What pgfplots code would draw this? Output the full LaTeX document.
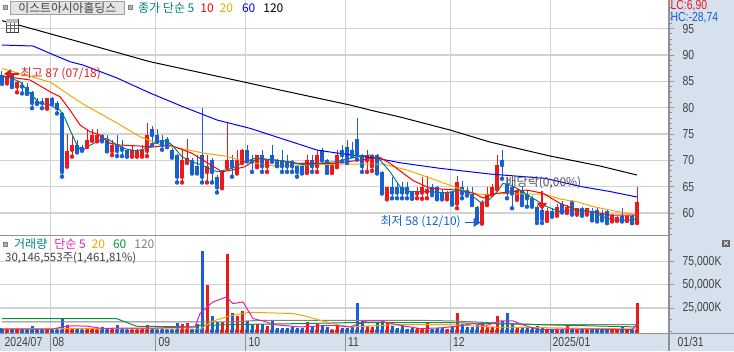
\documentclass[border=0pt]{standalone}
\usepackage{pgfplots}
\pgfplotsset{compat=1.18}
\usepackage{pgfplotstable}
\usepackage{fontspec}
\setmainfont{Liberation Sans}
\newfontfamily\hts[FakeStretch=0.8]{Liberation Sans}
\newfontfamily\kr{Noto Sans CJK KR}
\usetikzlibrary{arrows.meta}

\definecolor{cred}{RGB}{235,25,25}
\definecolor{cblue}{RGB}{25,95,210}
\definecolor{mateal}{RGB}{0,128,128}
\definecolor{mared}{RGB}{255,0,0}
\definecolor{maorange}{RGB}{240,168,0}
\definecolor{mablue}{RGB}{0,0,255}
\definecolor{vmag}{RGB}{224,32,176}
\definecolor{vgreen}{RGB}{0,150,60}
\definecolor{vgray}{RGB}{128,128,128}
\definecolor{gridc}{RGB}{210,210,210}
\definecolor{bandc}{RGB}{214,225,238}
\definecolor{linec}{RGB}{145,145,145}
\definecolor{txt}{RGB}{64,64,64}

% up candles (close > open): index, open, high, low, close, volume (million shares)
\pgfplotstableread{
i o h l c v
1 85.0 86.6 84.6 86.0 1.8
3 84.0 85.0 82.9 84.9 2.0
9 79.9 81.9 79.8 81.9 2.1
13 69.3 75.0 68.8 71.7 6.4
14 72.0 75.0 70.7 72.9 3.6
17 72.7 75.9 72.5 73.9 2.9
18 73.9 75.9 73.7 74.8 2.1
19 73.9 75.9 73.6 74.8 1.8
22 71.8 73.9 71.0 72.9 2.1
26 70.8 72.9 70.7 72.0 1.8
27 70.8 72.2 70.7 72.0 1.8
28 70.8 72.9 70.7 72.0 2.1
29 71.8 77.1 70.8 74.8 6.4
36 66.9 72.0 65.8 70.1 7.5
37 69.7 74.0 69.5 70.5 8.6
41 67.8 71.0 65.8 68.9 49.4
44 64.9 68.0 64.7 67.8 10.0
45 68.9 77.1 68.7 70.1 82.6
47 67.8 72.0 67.5 70.1 16.1
48 69.7 72.2 69.5 72.0 21.5
51 68.9 71.0 68.7 71.0 8.2
53 68.9 70.1 67.8 70.1 5.4
61 67.8 71.0 67.6 70.1 9.7
63 68.9 72.0 67.8 71.0 8.9
66 67.8 69.5 67.6 69.1 1.8
67 68.9 72.0 68.7 71.0 6.4
73 70.0 72.0 67.8 71.0 5.4
74 68.9 71.2 68.0 71.0 4.6
77 62.8 65.0 62.6 64.9 10.0
83 63.7 64.9 62.8 64.0 3.6
84 63.9 66.9 62.7 64.9 3.6
85 64.0 67.0 62.8 64.5 8.9
89 62.8 64.2 62.6 64.0 2.1
91 61.8 67.0 60.9 65.9 19.7
96 58.2 62.5 58.0 62.0 10.0
97 61.8 65.0 61.5 63.7 4.6
98 63.7 65.5 63.5 65.0 4.6
99 64.7 71.0 64.5 69.1 16.1
103 62.8 64.8 62.5 64.4 4.6
109 58.7 60.9 58.5 60.3 1.8
111 59.9 61.8 59.5 61.2 1.8
113 60.4 61.5 60.0 61.2 5.4
115 59.9 61.0 59.7 60.9 1.8
117 59.9 61.0 59.7 60.9 1.8
122 58.7 59.9 58.4 59.7 1.8
123 58.7 59.5 58.5 59.3 1.8
125 58.7 59.7 58.5 59.5 1.8
127 58.2 65.0 58.1 62.0 30.146
}\up

% down candles (close < open)
\pgfplotstableread{
i o h l c v
0 86.2 87.0 84.5 84.9 3.6
2 86.2 86.4 83.9 84.0 3.6
4 84.3 84.9 82.7 84.0 1.8
5 84.0 84.6 82.6 82.7 1.8
6 83.0 83.2 79.9 80.9 5.4
7 81.2 81.9 80.7 80.9 1.8
8 81.0 81.9 79.9 80.9 1.8
10 81.9 82.0 80.7 80.9 1.8
11 80.9 81.2 78.9 79.9 1.8
12 79.0 79.2 66.9 67.8 14.7
15 72.9 73.9 71.5 71.9 2.9
16 72.5 72.9 71.8 72.0 1.8
20 74.8 75.0 73.6 73.9 5.0
21 73.9 74.8 71.7 71.8 2.1
23 72.9 74.8 70.8 71.8 6.4
24 72.5 73.9 70.8 72.0 2.1
25 72.0 72.2 70.7 70.8 1.8
30 75.9 76.5 72.9 74.8 2.1
31 74.8 75.9 73.5 73.9 1.8
32 73.9 74.8 72.0 72.9 2.1
33 74.0 74.5 72.5 72.9 1.8
34 72.0 72.4 70.5 70.8 1.8
35 71.0 71.2 65.8 66.9 8.6
38 70.1 70.5 67.5 67.8 1.8
39 68.9 71.0 67.5 67.8 7.5
40 71.0 79.9 65.8 66.9 85.8
42 70.1 70.5 65.8 67.8 16.1
43 66.9 67.2 63.9 64.9 10.0
46 70.1 71.0 66.9 68.9 19.7
49 72.0 72.9 69.8 70.1 11.1
50 70.1 71.0 67.8 69.8 8.2
52 71.0 72.0 67.8 68.9 8.2
54 71.0 72.9 69.7 69.9 11.1
55 70.1 70.3 68.9 69.0 3.6
56 70.1 72.0 67.8 68.9 3.6
57 69.9 71.0 67.8 68.9 3.6
58 69.8 70.1 67.8 68.9 4.6
59 68.9 69.1 66.9 67.8 3.6
60 68.9 69.1 67.5 67.8 3.6
62 70.1 71.0 67.8 68.9 4.6
64 72.0 72.3 70.0 70.1 6.4
65 70.1 70.3 67.6 67.8 4.6
68 72.0 72.9 69.8 71.0 3.6
69 72.5 73.9 69.5 70.0 3.6
70 72.0 73.5 70.8 71.0 4.6
71 74.0 78.1 70.1 71.0 30.4
72 71.0 71.2 67.8 68.9 11.1
75 71.0 71.2 67.5 67.8 8.9
76 67.8 68.0 63.7 63.9 10.0
78 64.9 66.9 62.8 63.9 5.4
79 64.9 65.9 62.8 63.9 3.6
80 64.9 65.9 62.8 63.9 5.4
81 64.9 65.9 62.8 63.9 2.5
82 63.9 64.2 62.7 62.8 3.6
86 64.9 65.5 63.4 63.9 2.1
87 64.9 65.2 62.6 62.8 3.6
88 64.0 64.5 62.6 62.8 3.6
90 64.0 64.2 61.6 61.8 5.4
92 65.0 66.0 62.8 63.7 8.2
93 64.4 65.0 63.3 63.9 4.6
94 63.7 65.0 61.5 61.8 4.6
95 61.1 61.3 58.3 58.7 6.4
100 70.1 72.0 66.5 69.1 11.1
101 65.6 66.9 62.8 64.0 19.7
102 65.0 65.5 60.9 63.7 8.9
104 64.4 65.0 61.5 61.8 3.6
105 63.7 64.4 61.2 62.8 4.6
106 62.8 63.3 61.2 61.5 3.9
107 61.2 61.5 58.1 58.7 5.4
108 60.6 64.0 58.1 58.9 3.6
110 60.3 60.9 59.3 59.7 1.8
112 61.8 62.2 60.1 60.4 2.1
114 62.2 62.5 59.7 59.9 2.9
116 60.9 61.2 59.5 59.9 2.1
118 60.3 60.9 58.6 58.7 2.1
119 60.6 61.0 58.4 58.7 2.1
120 60.0 60.6 58.6 58.8 1.8
121 60.3 60.5 58.1 58.1 1.8
124 59.5 61.0 58.4 58.6 4.6
126 59.5 59.7 58.1 58.1 1.8
}\dn

\pgfplotsset{
  panel/.style={
    scale only axis, width=669pt,
    xmin=-0.4, xmax=133.4,
    axis line style={draw=none},
    xtick={9.7,30.7,48.7,68.7,89.7,109.7}, xticklabels={},
    xtick style={draw=none},
    xmajorgrids, ymajorgrids,
    grid style={gridc, line width=1.2pt},
    ytick pos=right, yticklabel pos=right,
    tick align=outside,
    major tick length=5pt, minor tick length=3pt,
    ytick style={linec, line width=0.8pt},
    minor tick style={linec, line width=0.8pt},
    yticklabel style={font=\fontsize{13}{13}\hts, text=txt, anchor=west, inner xsep=0pt, xshift=8.5pt},
    scaled y ticks=false,
  },
  bars/.style={only marks, mark=none, error bars/.cd, y dir=plus, y explicit, error mark=none,
    error bar style={line width=#1, solid}},
}

\begin{document}
\begin{tikzpicture}[x=1pt,y=1pt]
\path[use as bounding box] (0,0) rectangle (734,-351);
\fill[bandc] (669,0) rectangle (734,-351);
% vertical month grid in the strip above the volume axis box
\foreach \xx in {50.5,155.5,245.5,345.5,450.5,550.5} \draw[gridc, line width=1.2pt] (\xx,-235) -- (\xx,-254);

% ---------- price panel ----------
\begin{axis}[panel, at={(0,0)}, anchor=north west, height=235pt,
  ymin=55.83, ymax=100.42,
  ytick={60,65,70,75,80,85,90,95}, yticklabels={60,65,70,75,80,85,90,95},
  minor ytick={56,57,58,59,61,62,63,64,66,67,68,69,71,72,73,74,76,77,78,79,81,82,83,84,86,87,88,89,91,92,93,94,96,97,98,99},
]
% wicks
\addplot[cblue, bars=1pt] table[x=i, y=l, y error expr=\thisrow{h}-\thisrow{l}] {\dn};
\addplot[cred, bars=1pt] table[x=i, y=l, y error expr=\thisrow{h}-\thisrow{l}] {\up};
% bodies
\addplot[cblue, bars=3.6pt] table[x=i, y=c, y error expr={max(\thisrow{o}-\thisrow{c},0.15)}] {\dn};
\addplot[cred, bars=3.6pt] table[x=i, y=o, y error expr={max(\thisrow{c}-\thisrow{o},0.15)}] {\up};
% moving averages
\addplot[black, line width=1pt, mark=none] coordinates {(0,96.5) (3.3,95.67) (13.6,92.97) (29.6,88.71) (49.6,84.61) (55.6,83.34) (69.6,80.49) (73.6,79.54) (79.6,78.22) (89.6,75.75) (97.6,73.47) (109.6,70.82) (119.6,68.92) (127,67.21)};
\addplot[mablue, line width=1pt, mark=none] coordinates {(0,91.88) (6.2,91.69) (9.6,90.30) (13.6,88.71) (16.2,88.08) (23,85.62) (29.6,82.77) (36.2,80.17) (43,77.65) (49.6,76.07) (63,71.95) (66.6,71.44) (75,70.38) (79.6,69.54) (87.6,68.48) (97.6,67.40) (108.6,66.58) (116,64.99) (121.6,64.08) (127,63.04)};
\addplot[maorange, line width=1pt, mark=none] coordinates {(0,87.42) (9.6,84.86) (16.2,80.68) (23,77.08) (27.6,74.48) (31.6,73.0) (36.6,72.09) (40.6,71.33) (44.6,70.82) (48.6,69.73) (54.6,68.92) (59.6,69.11) (67.6,69.30) (76.2,69.30) (81,68.16) (85.6,66.64) (92.2,64.36) (95.6,63.51) (99.6,63.70) (105,63.61) (108.6,63.6) (111.6,62.66) (115.2,62.09) (118.2,61.23) (122,60.47) (127,59.62)};
\addplot[mared, line width=1pt, mark=none] coordinates {(0,86.0) (5.6,85.24) (9.6,83.02) (11.6,82.07) (13.6,79.54) (15.6,76.70) (17.6,75.43) (19.6,74.80) (21.6,73.23) (23.6,72.90) (27.6,72.71) (29.6,72.47) (33.6,72.90) (38,71.33) (41.2,69.43) (44,67.84) (46,68.16) (48.6,68.79) (51.2,70.38) (54.6,70.06) (59.2,69.43) (66.6,69.43) (75.6,70.53) (77.6,69.43) (82.2,66.17) (85.6,64.69) (91,64.36) (94.2,63.80) (96.2,62.85) (99,63.74) (105,64.36) (108.2,63.74) (111.6,61.84) (115,60.57) (118.2,60.25) (121.6,59.62) (127,59.62)};
\addplot[mateal, line width=1pt, mark=none] coordinates {(0,85.9) (1.6,85.62) (3.6,84.91) (5.6,82.71) (7.6,80.82) (9.6,80.49) (11.6,79.54) (12.6,77.97) (13.6,75.75) (15,72.90) (16,71.63) (17,72.58) (19,73.53) (21,74.17) (23,72.90) (25,72.09) (27,71.82) (29,72.28) (31,73.53) (33,73.72) (34,72.90) (36,70.68) (38,69.73) (40,69.11) (42,68.16) (43.2,67.84) (46,68.48) (48.6,69.73) (50.6,70.38) (52.6,70.19) (56,69.92) (60.6,69.11) (64.6,69.54) (66.6,69.73) (69.6,70.38) (73.6,71.01) (75.6,70.06) (77.6,67.84) (79.6,64.99) (81.6,64.04) (85.6,64.04) (89,63.85) (91.6,64.36) (93.6,63.61) (95.6,62.09) (97,62.09) (99,64.04) (100.2,65.64) (101.6,65.31) (103.6,64.36) (106.2,62.79) (109,61.20) (111.6,60.25) (114.2,60.57) (118.2,60.25) (120.2,59.30) (122.2,58.67) (126.2,58.67) (127,58.99)};
% annotations
\draw[cred, line width=1.6pt, -{Triangle[length=7pt,width=9pt]}] (axis cs:3.4,86.4) -- (axis cs:0.4,86.4);
\node[anchor=west, inner sep=0, text=cred, font=\fontsize{12}{12}\kr] at (axis cs:3.7,86.4) {최고 87 (07/18)};
\draw[cblue, line width=1.6pt, -{Triangle[length=7pt,width=9pt]}] (axis cs:92.6,58.2) -- (axis cs:95.7,58.2);
\node[anchor=east, inner sep=0, text=cblue, font=\fontsize{12}{12}\kr] at (axis cs:91.8,58.3) {최저 58 (12/10)};
\node[anchor=center, inner sep=0, text={rgb,255:red,80;green,80;blue,80}, font=\fontsize{12}{12}\kr] at (axis cs:108.3,65.7) {배당락(0,00\%)};
\draw[cred, line width=1.2pt, -{Triangle[length=7pt,width=10pt]}] (axis cs:108,64.2) -- (axis cs:108,60.6);
\end{axis}

% ---------- volume panel (values in millions of shares, labelled in K) ----------
\begin{axis}[panel, at={(0,-253.5)}, anchor=north west, height=97pt,
  ymin=-2.146, ymax=101.931,
  ytick={25,50,75}, yticklabels={{25,000K},{50,000K},{75,000K}},
  minor ytick={0,12.5,37.5,62.5,87.5},
]
\addplot[cblue, bars=3pt] table[x=i, y expr=0, y error expr=\thisrow{v}] {\dn};
\addplot[cred, bars=3pt] table[x=i, y expr=0, y error expr=\thisrow{v}] {\up};
\addplot[vgray, line width=1pt, mark=none] coordinates {(0,10.0) (45,10.0) (52,11.8) (83,11.8) (90,11.1) (107,7.15) (127,7.15)};
\addplot[vgreen, line width=1pt, mark=none] coordinates {(0,13.6) (22.9,13.6) (26.9,5.4) (38.9,4.65) (39.6,6.4) (45.6,7.0) (50,7.5) (59.6,8.2) (70,9.3) (89,9.3) (100,8.0) (107,7.15) (127,4.65)};
\addplot[maorange, line width=1pt, mark=none] coordinates {(0,2.86) (30,2.86) (39.6,2.15) (42.2,11.1) (46.2,17.2) (49.6,20.4) (58.2,19.0) (60,17.2) (63.6,11.8) (67.6,6.4) (69.6,4.65) (79.6,7.15) (89.6,7.15) (97.6,4.65) (107.6,3.9) (119.6,2.86) (127,2.5)};
\addplot[vmag, line width=1pt, mark=none] coordinates {(0,2.4) (10,2.2) (12,4.6) (14,5.8) (17,5.5) (20,3.0) (24,3.5) (30,3.4) (35,4.2) (38.6,4.65) (39.6,19.0) (42.2,31.5) (44.9,36.8) (46.2,29.7) (48.2,31.5) (50.2,13.6) (52.9,10.0) (54.2,7.15) (59.6,4.65) (66.2,6.4) (69.6,4.65) (73,11.1) (75.6,11.1) (79.6,6.4) (83.6,2.86) (87.6,3.6) (91,5.4) (94.2,8.2) (97,6.4) (99.6,11.1) (102.2,11.1) (105,5.4) (107.6,1.8) (113,2.5) (120,2.15) (126,1.8) (127,7.6)};
\end{axis}

% ---------- bottom date band (drawn over the volume axis' lower margin) ----------
\fill[bandc] (0,-333) rectangle (669,-351);
\draw[linec, line width=1.4pt] (0,-235.3) -- (669,-235.3);
\draw[linec, line width=1pt] (0,-333) -- (734,-333);
\draw[linec, line width=1.2pt] (669,0) -- (669,-351);
\draw[linec, line width=0.8pt] (669,-250.5) -- (672,-250.5);
\foreach \xx in {50.5,155.5,245.5,345.5,450.5,550.5} \draw[linec, line width=1pt] (\xx,-333) -- (\xx,-351);

% ---------- date labels ----------
\begin{scope}[every node/.style={anchor=west, inner sep=0, text=txt, font=\fontsize{13}{13}\hts}]
\node at (4.5,-342) {2024/07};
\node at (52.5,-342) {08};
\node at (158.5,-342) {09};
\node at (248.5,-342) {10};
\node at (348,-342) {11};
\node at (453,-342) {12};
\node at (552.5,-342) {2025/01};
\node at (677.5,-342) {01/31};
\end{scope}

% ---------- headers ----------
\filldraw[fill=gray!60, draw=gray] (3.5,-5) rectangle (7.5,-9.5);
\filldraw[fill={rgb,255:red,228;green,228;blue,228}, draw={rgb,255:red,160;green,160;blue,160}, line width=0.8pt] (10.7,-1) rectangle (124,-14.7);
\node[anchor=center, inner sep=0, text=txt, font=\fontsize{11.8}{12}\kr] at (67.3,-7.8) {이스트아시아홀딩스};
\filldraw[fill=gray!60, draw=gray] (127.7,-5) rectangle (131.7,-9.5);
\node[anchor=west, inner sep=0, font=\fontsize{12}{12}\kr] at (138,-7.8) {\color{mateal}종가 단순 5\hspace{6pt}\color{mared}10\hspace{6pt}\color{maorange}20\hspace{9pt}\color{mablue}60\hspace{8pt}\color{black}120};
% table icon
\filldraw[fill=white, draw=black!75, line width=0.8pt] (6,-19) rectangle (18,-32);
\fill[black!25] (6.4,-19.4) rectangle (17.6,-22.5);
\draw[black!60, line width=0.5pt] (10,-22.5) -- (10,-32) (14,-22.5) -- (14,-32) (6,-25.5) -- (18,-25.5) (6,-28.7) -- (18,-28.7);

\filldraw[fill=gray!60, draw=gray] (3,-242) rectangle (7,-246.5);
\node[anchor=west, inner sep=0, font=\fontsize{12}{12}\kr] at (14,-244) {\color{mateal}거래량\hspace{7pt}\color{vmag}단순 5\hspace{6pt}\color{maorange}20\hspace{8pt}\color{vgreen}60\hspace{8pt}\color{vgray}120};
\node[anchor=west, inner sep=0, text=txt, font=\fontsize{11.5}{12}\kr] at (5,-257.5) {30,146,553주(1,461,81\%)};

% right band texts
\node[anchor=west, inner sep=0, text=cred, font=\fontsize{13}{13}\hts] at (670.5,-6) {LC:6,90};
\node[anchor=west, inner sep=0, text={rgb,255:red,20;green,90;blue,210}, font=\fontsize{13}{13}\hts] at (670.5,-17.6) {HC:-28,74};
\fill[black!60] (722,-239.5) rectangle (730,-247);
\draw[white, line width=0.7pt] (724,-241.5) -- (728,-245) (724,-245) -- (728,-241.5);
\end{tikzpicture}
\end{document}
